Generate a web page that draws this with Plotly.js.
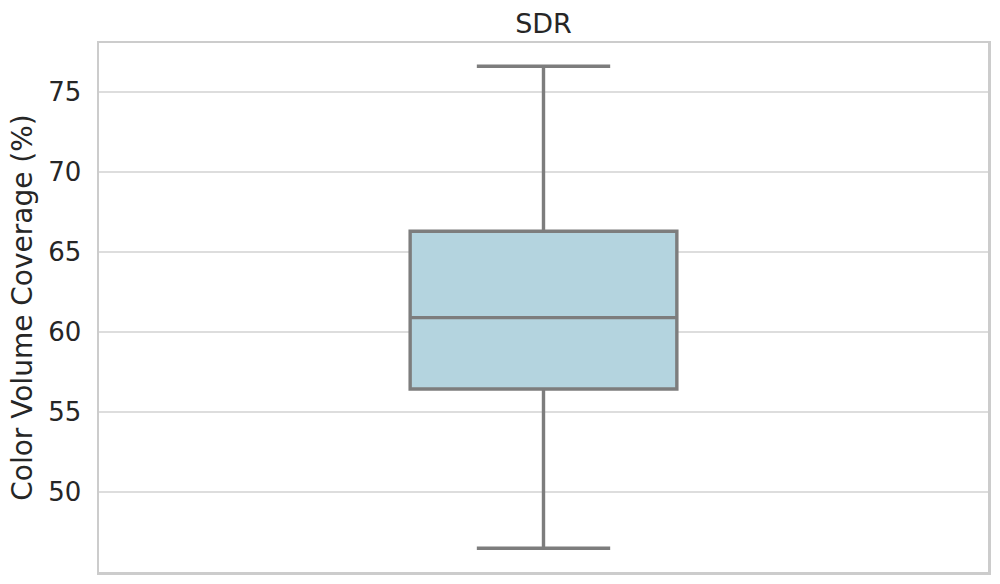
<!DOCTYPE html>
<html>
<head>
<meta charset="utf-8">
<script src="https://cdn.plot.ly/plotly-3.0.1.min.js"></script>
<style>
  html, body { margin: 0; padding: 0; background: #ffffff; }
  #chart { width: 1000px; height: 584px; }
</style>
</head>
<body>
<div id="chart"></div>
<script>
  // Box statistics (percent)
  var groups = ['SDR'];
  var lowerFence = [46.5];
  var q1 = [56.45];
  var median = [60.9];
  var q3 = [66.3];
  var upperFence = [76.6];
  var yTicks = [50, 55, 60, 65, 70, 75];

  var trace = {
    type: 'box',
    x: [0],
    q1: q1,
    median: median,
    q3: q3,
    lowerfence: lowerFence,
    upperfence: upperFence,
    width: 0.3,
    whiskerwidth: 0.5,
    fillcolor: '#b4d4df',
    line: { color: '#7d7d7d', width: 3.4 },
    boxpoints: false,
    hoverinfo: 'y',
    name: groups[0]
  };

  var layout = {
    width: 1000,
    height: 584,
    paper_bgcolor: '#ffffff',
    plot_bgcolor: '#ffffff',
    margin: { l: 99, r: 12, t: 43, b: 12 },
    showlegend: false,
    font: { family: 'DejaVu Sans, sans-serif', color: '#262626' },
    title: {
      text: groups[0],
      font: { size: 27, color: '#262626' },
      x: 0.5435,
      xanchor: 'center',
      y: 0.96,
      yanchor: 'middle'
    },
    xaxis: {
      range: [-0.5, 0.5],
      showticklabels: false,
      ticks: '',
      showgrid: false,
      zeroline: false,
      showline: true,
      mirror: true,
      linecolor: '#cccccc',
      linewidth: 2.5
    },
    yaxis: {
      range: [45.02, 78.05],
      tickvals: yTicks,
      ticktext: yTicks.map(String),
      tickfont: { size: 26, color: '#262626' },
      ticks: '',
      ticklabelstandoff: 10,
      showgrid: true,
      gridcolor: '#dddddd',
      gridwidth: 1.8,
      zeroline: false,
      showline: true,
      mirror: true,
      linecolor: '#cccccc',
      linewidth: 2.5,
      title: {
        text: 'Color Volume Coverage (%)',
        font: { size: 28, color: '#262626' },
        standoff: 8
      }
    }
  };

  Plotly.newPlot('chart', [trace], layout, { displayModeBar: false, staticPlot: true });
</script>
</body>
</html>
